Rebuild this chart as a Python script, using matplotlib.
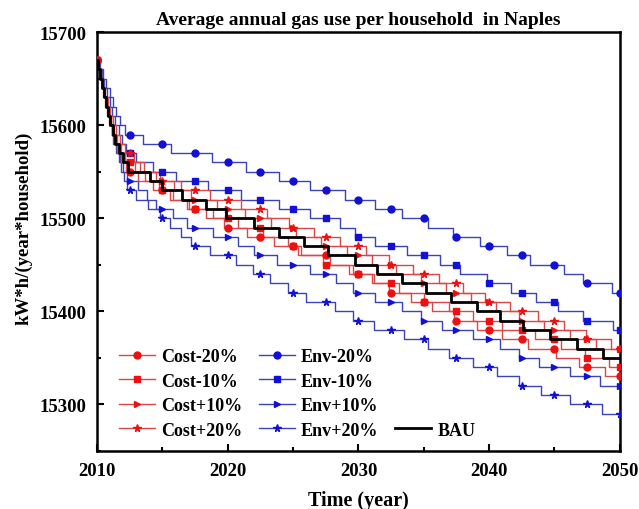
import numpy as np
import matplotlib.pyplot as plt
from matplotlib.lines import Line2D

plt.rcParams['font.family'] = ['Liberation Serif', 'DejaVu Serif']
plt.rcParams['font.weight'] = 'bold'

# every series starts at 15670 in 2010 and steps down by 10 at the listed years
start_value = 15670
step_size = 10
year_start, year_end = 2010, 2050
marker_years = [2010, 2012.5, 2015, 2017.5, 2020, 2022.5, 2025, 2027.5, 2030,
                2032.5, 2035, 2037.5, 2040, 2042.5, 2045, 2047.5, 2050]

cost_m20_drops = [2010.1, 2010.22, 2010.35, 2010.48, 2010.62, 2010.77, 2010.93, 2011.1, 2011.3,
                  2011.55, 2011.85, 2012.2, 2013.1, 2014.3, 2015.6, 2016.9, 2018.3, 2019.7,
                  2021.5, 2023.5, 2025.6, 2027.8, 2029.6, 2031.0, 2032.3, 2034.0, 2035.6,
                  2037.3, 2039.1, 2041.0, 2043.0, 2045.1, 2046.9, 2048.9]
cost_m10_drops = [2010.1, 2010.24, 2010.38, 2010.52, 2010.68, 2010.85, 2011.03, 2011.23, 2011.46,
                  2011.74, 2012.1, 2012.9, 2013.7, 2014.7, 2015.8, 2017.0, 2018.9, 2020.8,
                  2022.7, 2024.6, 2025.4, 2027.3, 2029.3, 2031.2, 2033.1, 2035.0, 2036.9,
                  2038.8, 2041.0, 2043.5, 2045.5, 2047.3, 2049.2]
cost_p10_drops = [2010.1, 2010.25, 2010.4, 2010.55, 2010.7, 2010.88, 2011.06, 2011.26, 2011.5,
                  2011.8, 2012.15, 2013.3, 2014.8, 2015.9, 2017.2, 2019.2, 2021.3, 2023.3,
                  2025.2, 2027.1, 2029.1, 2031.0, 2032.9, 2034.8, 2036.7, 2038.6, 2040.5,
                  2042.3, 2044.2, 2046.2, 2048.2]
cost_p20_drops = [2010.12, 2010.28, 2010.45, 2010.62, 2010.8, 2011.0, 2011.2, 2011.45, 2011.75,
                  2012.1, 2012.8, 2013.6, 2014.5, 2016.4, 2018.6, 2021.0, 2023.0, 2024.7,
                  2026.6, 2028.6, 2030.6, 2032.3, 2034.2, 2036.2, 2038.0, 2039.7, 2041.6,
                  2043.7, 2045.7, 2047.4, 2049.3]
env_m20_drops = [2010.2, 2010.45, 2010.7, 2010.95, 2011.2, 2011.45, 2011.75, 2012.15, 2013.5,
                 2015.65, 2018.8, 2021.4, 2023.9, 2026.3, 2029.0, 2031.3, 2033.3, 2035.35,
                 2037.25, 2039.3, 2041.35, 2043.1, 2045.7, 2047.2, 2049.4]
env_m10_drops = [2010.15, 2010.35, 2010.55, 2010.75, 2010.95, 2011.15, 2011.4, 2011.65, 2011.9,
                 2012.2, 2013.0, 2014.3, 2016.0, 2018.5, 2021.0, 2023.9, 2026.3, 2028.6,
                 2029.75, 2031.3, 2033.7, 2036.25, 2037.8, 2039.8, 2041.7, 2043.6, 2045.3,
                 2047.2, 2049.5]
env_p10_drops = [2010.1, 2010.25, 2010.4, 2010.55, 2010.7, 2010.85, 2011.0, 2011.15, 2011.35,
                 2011.55, 2011.75, 2011.95, 2012.25, 2013.1, 2013.8, 2014.5, 2015.8, 2016.9,
                 2018.9, 2020.8, 2022.0, 2023.8, 2026.3, 2028.3, 2029.6, 2031.3, 2033.3,
                 2034.8, 2036.4, 2038.8, 2040.8, 2042.3, 2043.8, 2046.2, 2048.5]
env_p20_drops = [2010.1, 2010.2, 2010.35, 2010.5, 2010.65, 2010.8, 2010.95, 2011.1, 2011.25,
                 2011.45, 2011.65, 2011.85, 2012.05, 2012.3, 2013.0, 2013.9, 2014.8, 2015.6,
                 2016.4, 2017.2, 2018.6, 2020.6, 2021.9, 2023.2, 2024.6, 2026.0, 2028.2,
                 2029.6, 2031.2, 2033.5, 2035.3, 2036.9, 2038.8, 2040.6, 2042.3, 2044.0,
                 2046.2, 2048.6]
bau_drops = [2010.1, 2010.25, 2010.4, 2010.55, 2010.7, 2010.85, 2011.0, 2011.2, 2011.4,
             2011.65, 2011.95, 2012.35, 2014.05, 2014.95, 2016.5, 2018.3, 2019.9, 2022.0,
             2023.9, 2025.8, 2027.7, 2029.75, 2031.4, 2033.3, 2035.2, 2037.1, 2039.05,
             2040.8, 2042.6, 2044.65, 2046.7, 2048.75]

red_line, red_mark = '#d84848', '#ee1010'
blue_line, blue_mark = '#3a44b8', '#1010d8'

series = [
    ('Cost-20%', cost_m20_drops, red_line, red_mark, 'o'),
    ('Cost-10%', cost_m10_drops, red_line, red_mark, 's'),
    ('Cost+10%', cost_p10_drops, red_line, red_mark, '>'),
    ('Cost+20%', cost_p20_drops, red_line, red_mark, '*'),
    ('Env-20%', env_m20_drops, blue_line, blue_mark, 'o'),
    ('Env-10%', env_m10_drops, blue_line, blue_mark, 's'),
    ('Env+10%', env_p10_drops, blue_line, blue_mark, '>'),
    ('Env+20%', env_p20_drops, blue_line, blue_mark, '*'),
]
marker_size = {'o': 5, 's': 4.5, '>': 5, '*': 5.5}


def step_line(drops):
    x = [year_start] + list(drops) + [year_end]
    y = [start_value - step_size * i for i in range(len(drops) + 1)]
    y.append(y[-1])
    return np.array(x), np.array(y)


def value_at(drops, years):
    d = np.array(drops)
    return np.array([start_value - step_size * np.sum(d <= t) for t in years])


fig = plt.figure(figsize=(6.39, 5.10), dpi=100)
ax = fig.add_axes([0.152, 0.114, 0.818, 0.821])

# blue first so the red band sits on top
for name, drops, lc, mc, mk in series[4:] + series[:4]:
    x, y = step_line(drops)
    ax.plot(x, y, drawstyle='steps-post', color=lc, lw=1.0, zorder=2)
    ax.plot(marker_years, value_at(drops, marker_years), linestyle='none',
            marker=mk, color=mc, markersize=marker_size[mk], zorder=3)

x, y = step_line(bau_drops)
ax.plot(x, y, drawstyle='steps-post', color='black', lw=2.0, zorder=4)

handles = []
for name, drops, lc, mc, mk in series:
    handles.append(Line2D([], [], color=lc, lw=1.0, marker=mk, markersize=marker_size[mk],
                          markerfacecolor=mc, markeredgecolor=mc, label=name))
blank = Line2D([], [], linestyle='none', label=' ')
handles += [blank, blank, blank,
            Line2D([], [], color='black', lw=2.0, label='BAU')]

ax.legend(handles=handles, ncol=3, loc='lower left', bbox_to_anchor=(0.01, -0.01),
          frameon=False, fontsize=13, handlelength=2.0, handletextpad=0.35,
          labelspacing=0.42, columnspacing=0.9, numpoints=1)

ax.set_xlim(2010, 2050)
ax.set_ylim(15250, 15700)
ax.set_xticks([2010, 2020, 2030, 2040, 2050])
ax.set_xticks([2015, 2025, 2035, 2045], minor=True)
ax.set_yticks([15300, 15400, 15500, 15600, 15700])
ax.set_yticks([15250, 15350, 15450, 15550, 15650], minor=True)
ax.tick_params(which='both', direction='in', width=1.5, labelsize=13.5, top=False, right=False)
ax.tick_params(which='major', length=5, pad=8)
ax.tick_params(which='minor', length=3)
for sp in ax.spines.values():
    sp.set_linewidth(1.8)

ax.set_title('Average annual gas use per household  in Naples', fontsize=14,
             fontweight='bold', pad=6)
ax.set_xlabel('Time (year)', fontsize=14.5, fontweight='bold', labelpad=8)
ax.set_ylabel('kW*h/(year*household)', fontsize=13.5, fontweight='bold')
ax.yaxis.set_label_coords(-0.124, 0.535)

plt.savefig('out.png', dpi=100)
